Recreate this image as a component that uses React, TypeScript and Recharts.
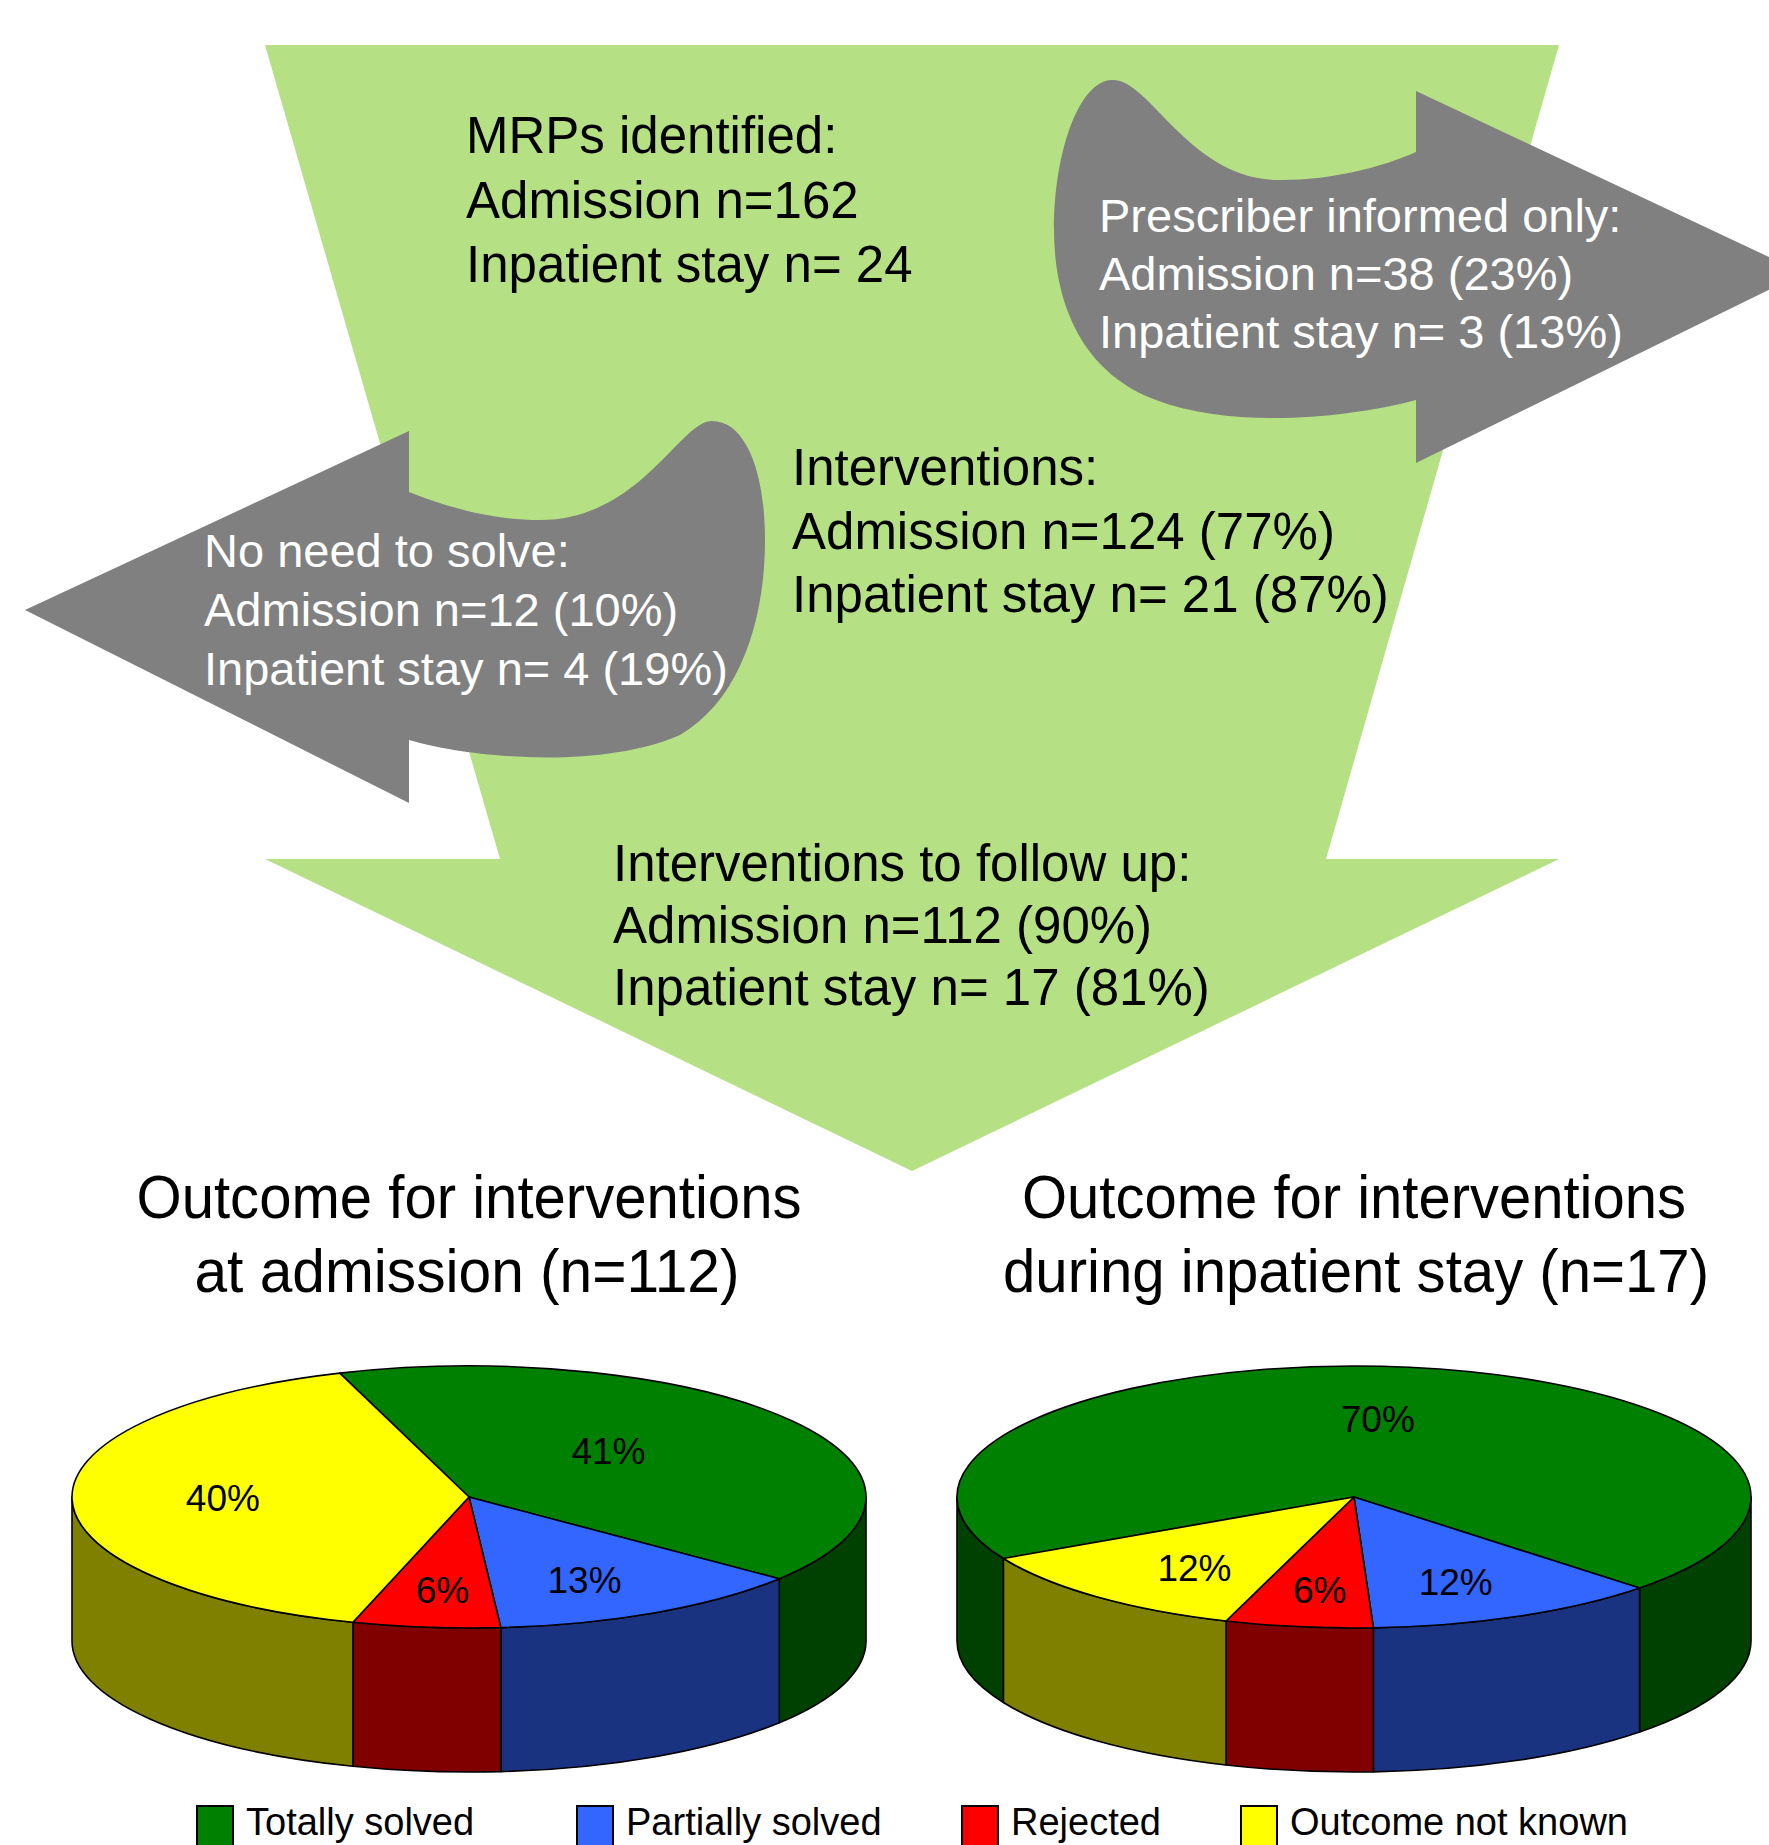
import React from "react";
import { PieChart, Pie, Cell } from "recharts";

// outcome categories shared by both pies and the legend
const outcomeNames = ["Totally solved", "Partially solved", "Rejected", "Outcome not known"];
const topColors = ["#008000", "#3366ff", "#ff0000", "#ffff00"];
const sideColors = ["#004000", "#1a3380", "#800000", "#808000"];

// percentages per outcome
const admissionShares = [41, 13, 6, 40];
const inpatientShares = [70, 12, 6, 12];

// flow diagram texts
const identifiedLines = ["MRPs identified:", "Admission n=162", "Inpatient stay n= 24"];
const informedLines = ["Prescriber informed only:", "Admission n=38 (23%)", "Inpatient stay n= 3 (13%)"];
const interventionLines = ["Interventions:", "Admission n=124 (77%)", "Inpatient stay n= 21 (87%)"];
const noNeedLines = ["No need to solve:", "Admission n=12 (10%)", "Inpatient stay n= 4 (19%)"];
const followUpLines = ["Interventions to follow up:", "Admission n=112 (90%)", "Inpatient stay n= 17 (81%)"];
const admissionTitle = ["Outcome for interventions", "at admission (n=112)"];
const inpatientTitle = ["Outcome for interventions", "during inpatient stay (n=17)"];

const FONT = "'Liberation Sans', Arial, sans-serif";
const RX = 397;
const RY = 131;
const DEPTH = 144;
const PIE_TOP = 1320;

const pt = (cx: number, cy: number, a: number, dy = 0) => {
  const r = (a * Math.PI) / 180;
  return [cx + RX * Math.cos(r), cy - RY * Math.sin(r) + dy];
};

const TopSlice = (props: any) => {
  const { cx, cy, startAngle, endAngle, fill } = props;
  const [x1, y1] = pt(cx, cy, startAngle);
  const [x2, y2] = pt(cx, cy, endAngle);
  const large = Math.abs(startAngle - endAngle) > 180 ? 1 : 0;
  const sweep = startAngle > endAngle ? 1 : 0;
  return (
    <path
      d={`M${cx},${cy}L${x1},${y1}A${RX},${RY} 0 ${large} ${sweep} ${x2},${y2}Z`}
      fill={fill}
      stroke="#000"
      strokeWidth={1.6}
      strokeLinejoin="round"
    />
  );
};

// front wall of a slice: only the part of the arc facing the viewer
const SideSlice = (props: any) => {
  const { cx, cy, startAngle, endAngle, fill } = props;
  const hi = Math.max(startAngle, endAngle);
  const lo = Math.min(startAngle, endAngle);
  const parts: number[][] = [];
  for (let k = -2; k <= 2; k++) {
    const a = Math.max(lo, -180 + 360 * k);
    const b = Math.min(hi, 360 * k);
    if (b - a > 0.01) parts.push([a, b]);
  }
  return (
    <g>
      {parts.map(([a, b], i) => {
        const [x1, y1] = pt(cx, cy, b);
        const [x2, y2] = pt(cx, cy, a);
        return (
          <path
            key={i}
            d={`M${x1},${y1}A${RX},${RY} 0 0 1 ${x2},${y2}L${x2},${y2 + DEPTH}A${RX},${RY} 0 0 0 ${x1},${y1 + DEPTH}Z`}
            fill={fill}
            stroke="#000"
            strokeWidth={1.6}
            strokeLinejoin="round"
          />
        );
      })}
    </g>
  );
};

const renderPct = (props: any) => {
  const { cx, cy, midAngle, value } = props;
  const r = (midAngle * Math.PI) / 180;
  const s = Math.sin(r);
  const back = s > 0;
  const x = cx + RX * (back ? 0.43 : 0.62) * Math.cos(r);
  const y = cy - RY * (back ? 0.6 : 0.72) * s;
  return (
    <text
      x={x}
      y={y}
      textAnchor="middle"
      dominantBaseline="central"
      fontSize={37}
      fill="#000"
      fontFamily={FONT}
    >
      {value}%
    </text>
  );
};

const Pie3D = ({
  shares,
  startAngle,
  left,
}: {
  shares: number[];
  startAngle: number;
  left: number;
}) => {
  const data = outcomeNames.map((name, i) => ({ name, value: shares[i] }));
  const cy = 1497 - PIE_TOP;
  return (
    <div style={{ position: "absolute", left, top: PIE_TOP }}>
      <PieChart width={885} height={490} margin={{ top: 0, right: 0, bottom: 0, left: 0 }}>
        <Pie
          data={data}
          dataKey="value"
          nameKey="name"
          cx={469}
          cy={cy}
          outerRadius={RX}
          startAngle={startAngle}
          endAngle={startAngle - 360}
          shape={SideSlice}
          label={false}
          labelLine={false}
          isAnimationActive={false}
        >
          {data.map((d, i) => (
            <Cell key={`side-${i}`} fill={sideColors[i]} />
          ))}
        </Pie>
        <Pie
          data={data}
          dataKey="value"
          nameKey="name"
          cx={469}
          cy={cy}
          outerRadius={RX}
          startAngle={startAngle}
          endAngle={startAngle - 360}
          shape={TopSlice}
          label={renderPct}
          labelLine={false}
          isAnimationActive={false}
        >
          {data.map((d, i) => (
            <Cell key={`top-${i}`} fill={topColors[i]} />
          ))}
        </Pie>
      </PieChart>
    </div>
  );
};

const TextBlock = ({
  lines,
  x,
  y,
  step,
  size,
  color,
}: {
  lines: string[];
  x: number;
  y: number;
  step: number;
  size: number;
  color: string;
}) => (
  <g>
    {lines.map((t, i) => (
      <text key={t} x={x} y={y + i * step} fontSize={size} fill={color} fontFamily={FONT}>
        {t}
      </text>
    ))}
  </g>
);

const legendX = [197, 577, 962, 1241];

export default function App() {
  return (
    <div
      style={{
        position: "absolute",
        left: 0,
        top: 0,
        width: 1769,
        height: 1845,
        overflow: "hidden",
        background: "#fff",
      }}
    >
      <svg width={1769} height={1845} style={{ position: "absolute", left: 0, top: 0 }}>
        {/* big green flow arrow */}
        <polygon
          points="265,45 1559,45 1326,859 1559,859 912,1171 265,859 500,859"
          fill="#b6e084"
        />
        {/* curved grey arrow to the right */}
        <path
          d="M1112,80 C1150,78 1190,182 1282,180 C1330,180 1380,168 1416,152 L1416,91 L1803,273 L1416,463 L1416,400 C1340,420 1230,428 1156,400 C1080,372 1054,300 1054,230 C1054,150 1080,80 1112,80 Z"
          fill="#808080"
        />
        {/* curved grey arrow to the left */}
        <path
          d="M409,492 L409,431 L25,610 L409,803 L409,740 C470,758 600,770 680,735 C740,700 765,620 765,540 C765,470 745,421 712,421 C680,421 640,520 540,520 C480,520 430,500 409,492 Z"
          fill="#808080"
        />
        <TextBlock lines={identifiedLines} x={466} y={153} step={64.5} size={51} color="#000" />
        <TextBlock lines={informedLines} x={1099} y={232} step={58} size={47} color="#fff" />
        <TextBlock lines={interventionLines} x={792} y={485} step={63.5} size={51} color="#000" />
        <TextBlock lines={noNeedLines} x={204} y={567} step={59} size={47} color="#fff" />
        <TextBlock lines={followUpLines} x={613} y={881} step={62} size={51} color="#000" />

        {/* pie titles */}
        <text x={469} y={1218} textAnchor="middle" fontSize={62} fontFamily={FONT} textLength={665} lengthAdjust="spacingAndGlyphs">
          {admissionTitle[0]}
        </text>
        <text x={467} y={1292} textAnchor="middle" fontSize={62} fontFamily={FONT} textLength={545} lengthAdjust="spacingAndGlyphs">
          {admissionTitle[1]}
        </text>
        <text x={1354} y={1218} textAnchor="middle" fontSize={62} fontFamily={FONT} textLength={664} lengthAdjust="spacingAndGlyphs">
          {inpatientTitle[0]}
        </text>
        <text x={1356} y={1292} textAnchor="middle" fontSize={62} fontFamily={FONT} textLength={706} lengthAdjust="spacingAndGlyphs">
          {inpatientTitle[1]}
        </text>

        {/* legend */}
        {outcomeNames.map((name, i) => (
          <g key={name}>
            <rect x={legendX[i]} y={1806} width={36} height={40} fill={topColors[i]} stroke="#000" strokeWidth={2} />
            <text x={legendX[i] + 49} y={1835} fontSize={38} fontFamily={FONT}>
              {name}
            </text>
          </g>
        ))}
      </svg>
      <Pie3D shares={admissionShares} startAngle={109} left={0} />
      <Pie3D shares={inpatientShares} startAngle={208} left={885} />
    </div>
  );
}
